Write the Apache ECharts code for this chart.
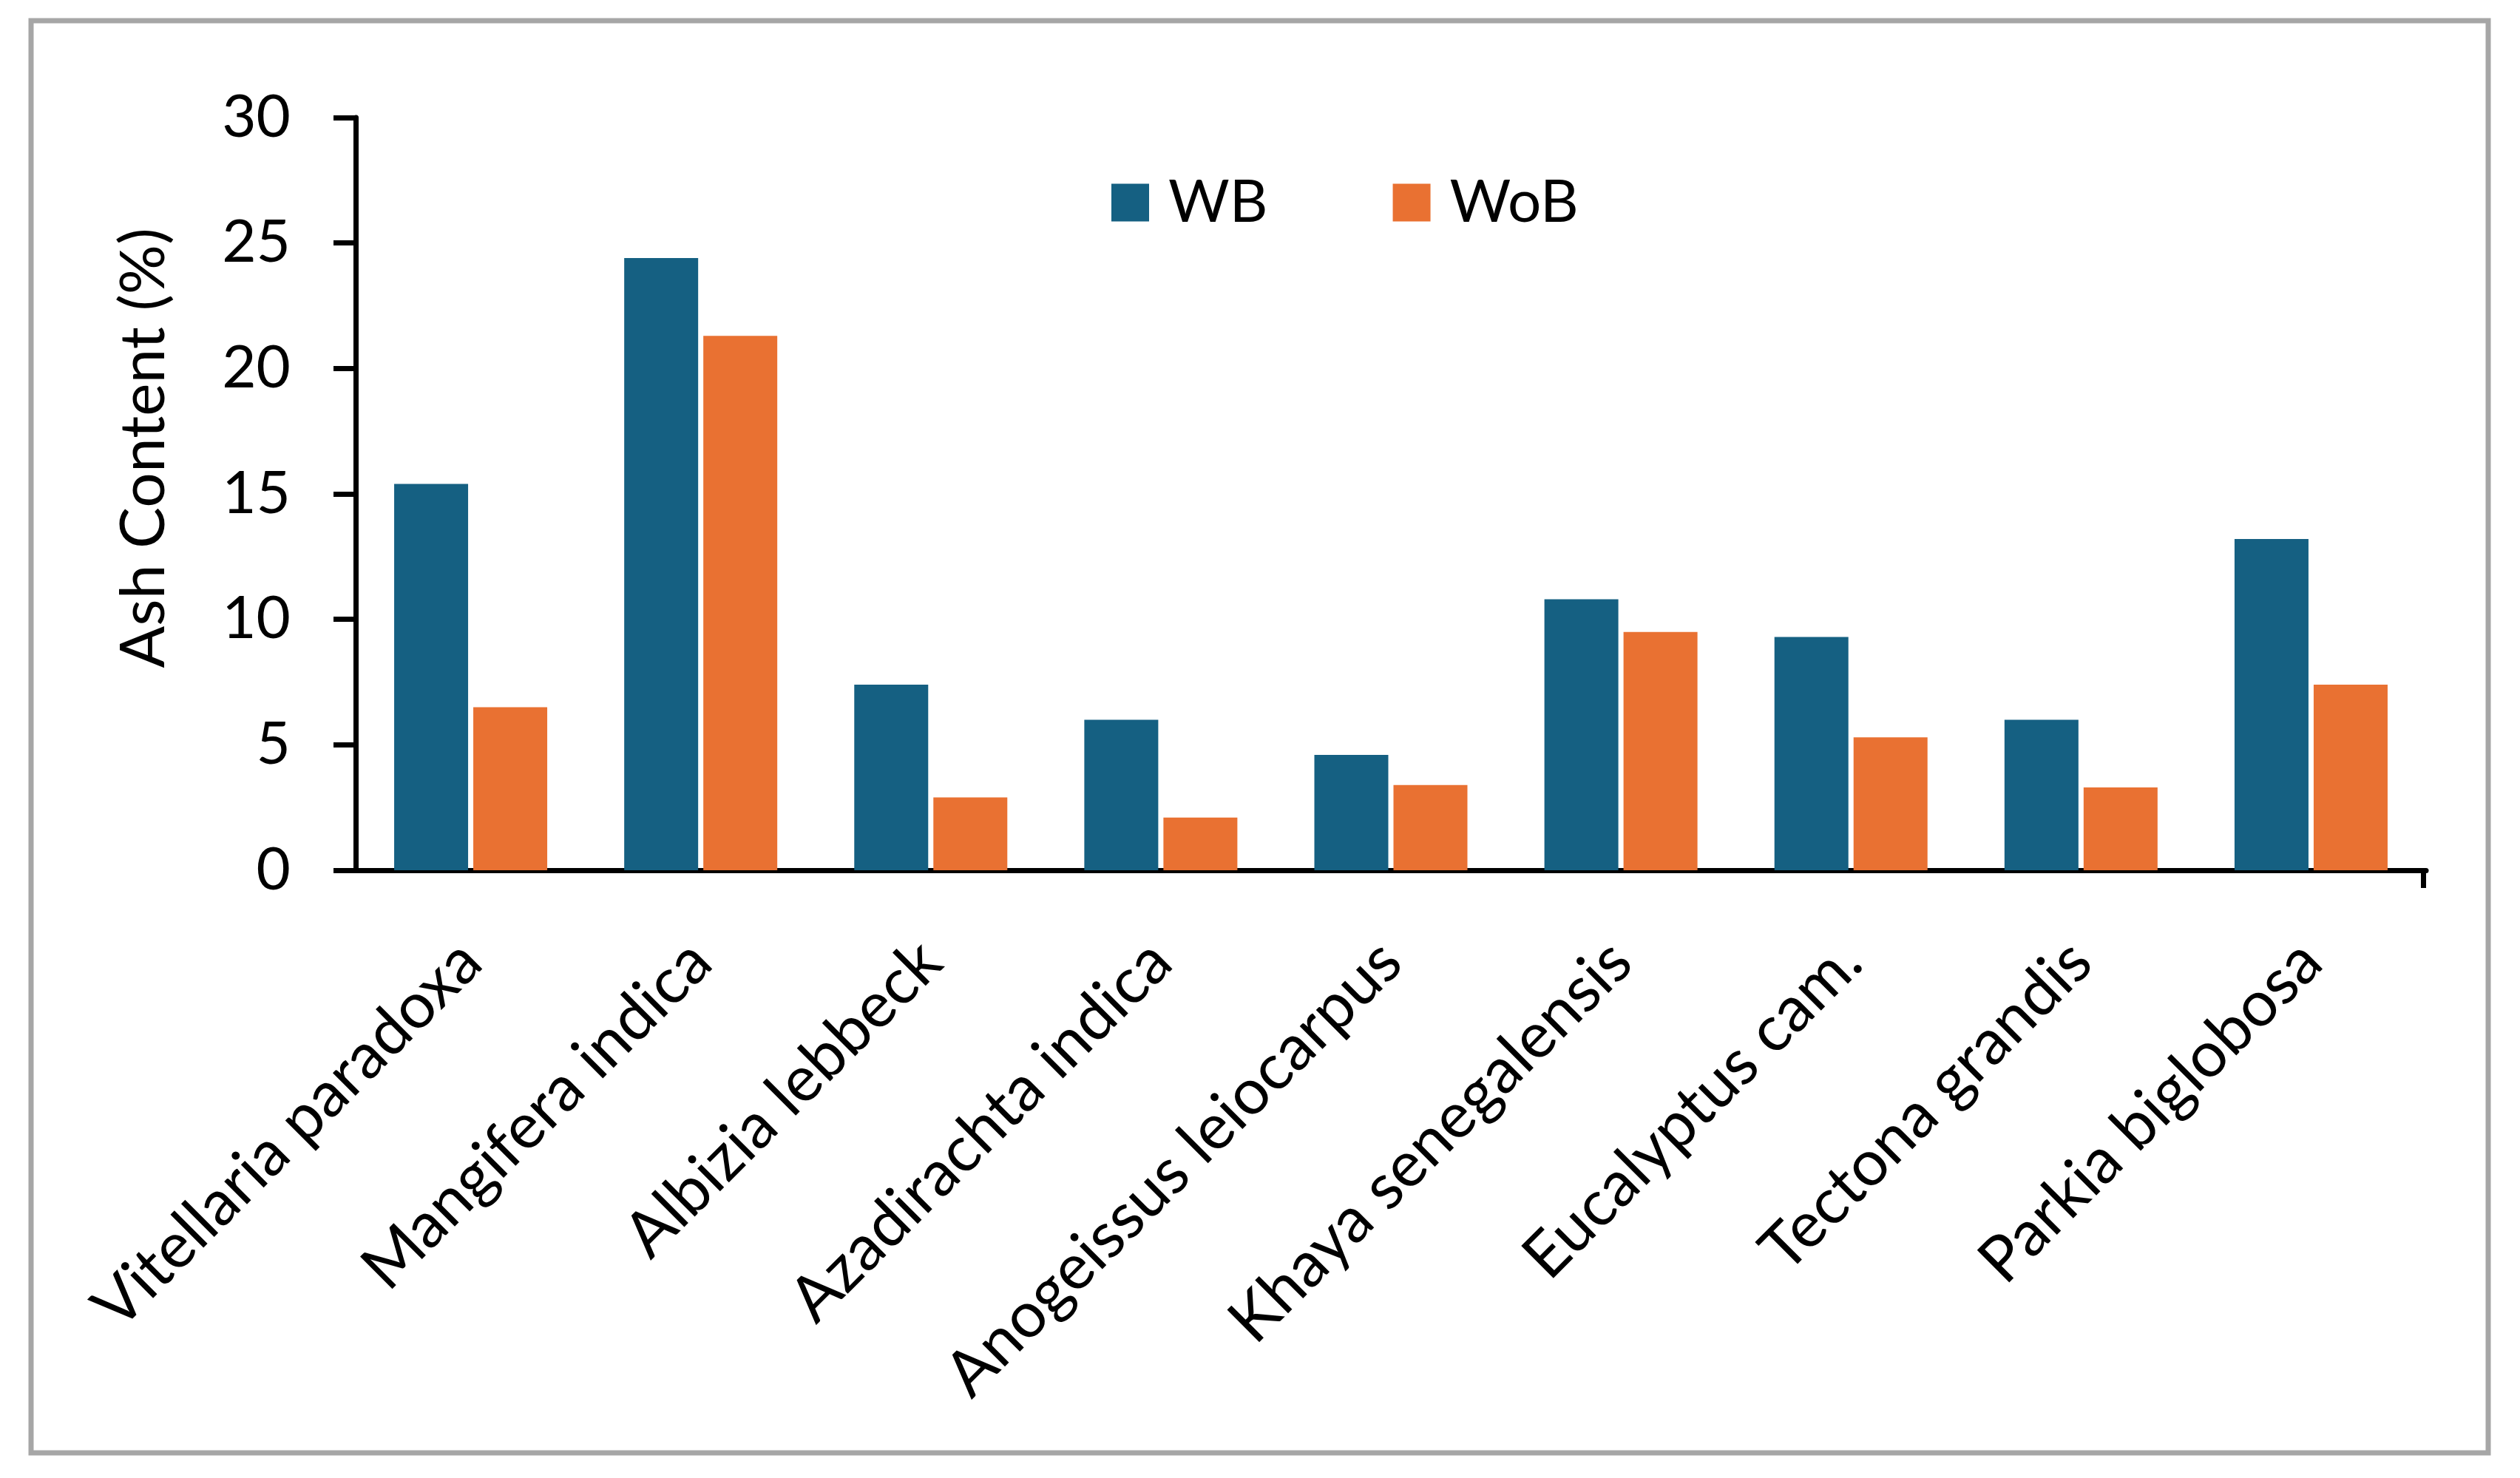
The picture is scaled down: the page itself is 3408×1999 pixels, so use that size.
<!DOCTYPE html>
<html>
<head>
<meta charset="utf-8">
<style>
html,body{margin:0;padding:0;background:#fff;}
#chart{width:3408px;height:1999px;}
</style>
<script src="https://cdn.jsdelivr.net/npm/echarts@6/dist/echarts.min.js"></script>
</head>
<body>
<div id="chart"></div>
<script>
const categories = ["Vitellaria paradoxa","Mangifera indica","Albizia lebbeck","Azadirachta indica","Anogeissus leiocarpus","Khaya senegalensis","Eucalyptus cam.","Tectona grandis","Parkia biglobosa"];
const wbValues  = [15.4, 24.4, 7.4, 6.0, 4.6, 10.8, 9.3, 6.0, 13.2];
const wobValues = [6.5, 21.3, 2.9, 2.1, 3.4, 9.5, 5.3, 3.3, 7.4];
const yTicks = [0, 5, 10, 15, 20, 25, 30];

const FONT = 'Lato';
const chart = echarts.init(document.getElementById('chart'), null, {renderer:'canvas'});
chart.setOption({
  animation:false,
  backgroundColor:'#ffffff',
  textStyle:{fontFamily:FONT},
  grid:{left:481, right:127, top:159, bottom:822, containLabel:false},
  legend:{
    left:1503, top:234, padding:0,
    itemWidth:51, itemHeight:51, itemGap:169,
    icon:'rect',
    textStyle:{fontFamily:FONT, fontSize:80, color:'#000', padding:[0,0,0,21]},
    data:['WB','WoB']
  },
  xAxis:{
    type:'category', data:categories,
    axisLine:{lineStyle:{color:'#000', width:7}},
    axisTick:{alignWithLabel:true, length:25, lineStyle:{color:'#000', width:7}},
    axisLabel:{rotate:45, interval:0, margin:110, verticalAlign:'middle', fontFamily:FONT, fontSize:86, color:'#000'}
  },
  yAxis:{
    type:'value', min:yTicks[0], max:yTicks[yTicks.length-1], interval:5,
    splitLine:{show:false},
    axisLine:{show:true, lineStyle:{color:'#000', width:7}},
    axisTick:{show:true, length:30, lineStyle:{color:'#000', width:7}},
    axisLabel:{margin:88, fontFamily:FONT, fontSize:80, color:'#000'}
  },
  series:[
    {name:'WB', type:'bar', data:wbValues, barWidth:100, barGap:'7%', itemStyle:{color:'#156082'}},
    {name:'WoB', type:'bar', data:wobValues, barWidth:100, barGap:'7%', itemStyle:{color:'#E97132'}}
  ],
  graphic:[
    {type:'rect', shape:{x:42, y:28, width:3323, height:1937}, style:{fill:'none', stroke:'#A6A6A6', lineWidth:7}, z:-1},
    {type:'line', shape:{x1:3277.5, y1:1177, x2:3277.5, y2:1201}, style:{stroke:'#000', lineWidth:7}},
    {type:'text', x:195, y:606, rotation:Math.PI/2,
     style:{text:'Ash Content (%)', fontFamily:FONT, fontSize:84, fill:'#000', textAlign:'center', textVerticalAlign:'middle'}}
  ]
});
</script>
</body>
</html>
